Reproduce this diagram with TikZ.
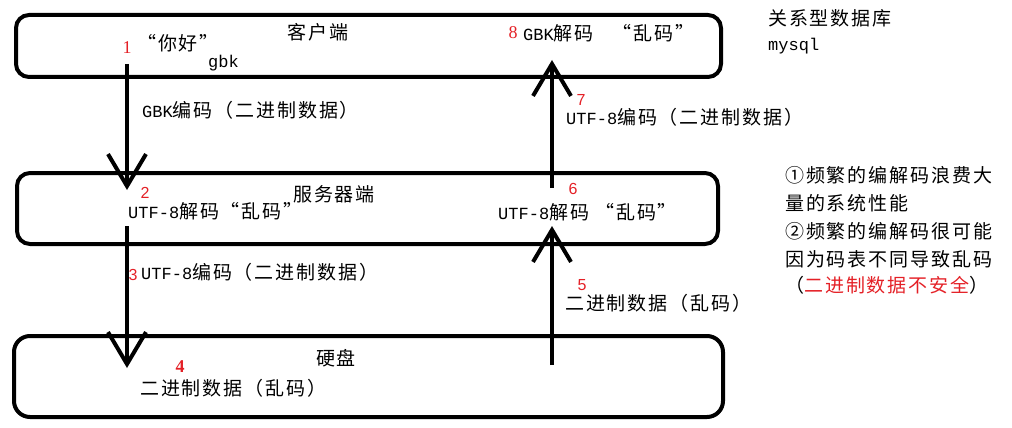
\documentclass[tikz,border=0pt]{standalone}
\usepackage{fontspec}
\setmainfont{Noto Sans CJK SC}[LetterSpace=10]
\newfontfamily\latfont{Liberation Mono}
\newfontfamily\numfont{Liberation Serif}
\newfontfamily\numsans{Liberation Sans}
\definecolor{StepRed}{RGB}{228, 32, 38}
\usetikzlibrary{arrows.meta}

\begin{document}
\begin{tikzpicture}[x=1pt, y=-1pt,
    every node/.style={font=\fontsize{19}{22}\selectfont, inner sep=0pt},
    layer/.style={draw, line width=4pt, rounded corners=13pt},
    txt/.style={anchor=west},
    num/.style={text=StepRed, font=\fontsize{18}{20}\selectfont\numfont},
    snum/.style={text=StepRed, font=\fontsize{16}{20}\selectfont\numsans},
    flow/.style={line width=4pt, -{Straight Barb[length=32pt, width=38pt]}}]

\useasboundingbox (0,0) rectangle (1012,428);

% three layers
\node[layer, minimum width=705pt, minimum height=62pt] (client) at (368.5,46) {};
\node[layer, minimum width=701pt, minimum height=71pt] (server) at (367.5,208.5) {};
\node[layer, minimum width=709pt, minimum height=81pt, rounded corners=16pt] (disk) at (368.5,376.5) {};

% client
\node (clientlbl) at (318,32) {客户端};
\node[num] (n1) at (127,48) {1};
\node[txt] (hello) at (137,43) {“你好”};
\node[txt] (gbk) at (208,63) {\fontsize{17}{20}\selectfont\latfont gbk};
\node[num] (n8) at (513,33) {8};
\node[txt] (dec8) at (523,33) {{\fontsize{17}{20}\selectfont\latfont GBK}解码\quad “乱码”};

\node[txt] (db) at (768,18) {关系型数据库};
\node[txt] (mysql) at (768,46) {\fontsize{17}{20}\selectfont\latfont mysql};

% client <-> server
\node[txt] (enc1) at (142,110) {{\fontsize{17}{20}\selectfont\latfont GBK}编码（二进制数据）};
\node[snum] (n7) at (581,100) {7};
\node[txt] (enc7) at (566,117) {{\fontsize{17}{20}\selectfont\latfont UTF-8}编码（二进制数据）};

% server
\node[snum] (n2) at (145,193) {2};
\node[txt] (dec2) at (128,211) {{\fontsize{17}{20}\selectfont\latfont UTF-8}解码“乱码”};
\node[txt] (serverlbl) at (293,194) {服务器端};
\node[snum] (n6) at (573,189) {6};
\node[txt] (dec6) at (498,212) {{\fontsize{17}{20}\selectfont\latfont UTF-8}解码 “乱码”};

% notes
\node[txt] (note1) at (785,175) {①频繁的编解码浪费大};
\node[txt] (note2) at (785,203) {量的系统性能};
\node[txt] (note3) at (785,231) {②频繁的编解码很可能};
\node[txt] (note4) at (785,259) {因为码表不同导致乱码};
\node[txt] (note5) at (785,285) {（{\color{StepRed}二进制数据不安全}）};

% server <-> disk
\node[snum] (n3) at (133,275) {3};
\node[txt] (enc3) at (141,272) {{\fontsize{17}{20}\selectfont\latfont UTF-8}编码（二进制数据）};
\node[snum] (n5) at (582,285) {5};
\node[txt] (bin5) at (565,303) {二进制数据（乱码）};

% disk
\node (disklbl) at (336,358) {硬盘};
\node[num, font=\fontsize{18}{20}\selectfont\numfont\bfseries] (n4) at (180,367) {4};
\node[txt] (bin4) at (140,388) {二进制数据（乱码）};

% flow ends
\coordinate (down1s) at (127,64);
\coordinate (down1e) at (127,190);
\coordinate (down2s) at (127,226);
\coordinate (down2e) at (127,368);
\coordinate (up1s) at (552,365);
\coordinate (up1e) at (552,226);
\coordinate (up2s) at (552,188);
\coordinate (up2e) at (552,60);

\draw[flow] (down1s) -- (down1e);
\draw[flow] (down2s) -- (down2e);
\draw[flow] (up1s) -- (up1e);
\draw[flow] (up2s) -- (up2e);
\end{tikzpicture}
\end{document}
